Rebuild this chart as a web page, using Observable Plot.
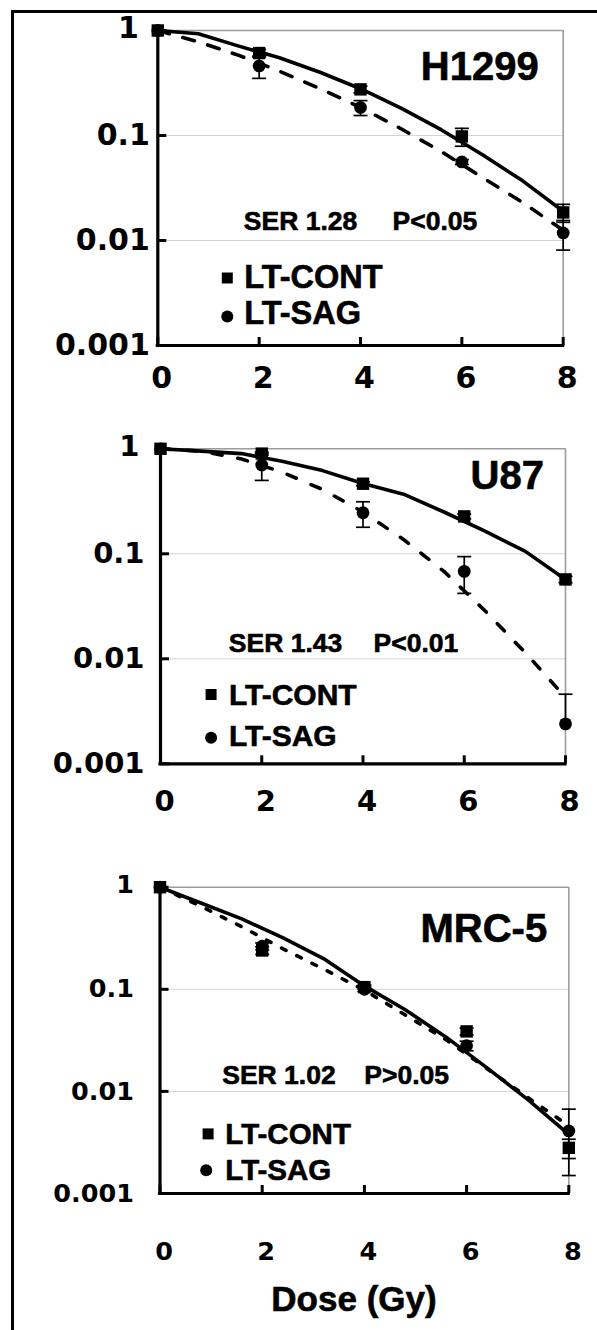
<!DOCTYPE html>
<html>
<head>
<meta charset="utf-8">
<script src="https://cdn.jsdelivr.net/npm/d3@7"></script>
<script src="https://cdn.jsdelivr.net/npm/@observablehq/plot@0.6"></script>
<style>
  html, body { margin: 0; padding: 0; background: #fff; }
  #page { position: relative; width: 597px; height: 1330px; overflow: hidden; background: #fff; }
  #frame { position: absolute; left: 11px; top: 10px; width: 700px; height: 1400px;
           border-top: 3px solid #000; border-left: 3px solid #000; z-index: 5; }
  .panel { position: absolute; left: 0; }
  #xlabel { position: absolute; left: 254px; width: 200px; text-align: center; top: 1281px;
            font: bold 35px "Liberation Sans", Arial, sans-serif; line-height: 1; color: #000; white-space: nowrap;
            -webkit-text-stroke: 0.6px #000; }
</style>
</head>
<body>
<div id="page">
  <div id="p1" class="panel" style="top:0px"></div>
  <div id="p2" class="panel" style="top:420px"></div>
  <div id="p3" class="panel" style="top:850px"></div>
  <div id="xlabel">Dose (Gy)</div>
  <div id="frame"></div>
</div>
<script>
// ---------- data ----------
const doses = [0, 2, 4, 6, 8];
const fitDoses = [0, 0.8, 1.6, 2.4, 3.2, 4, 4.8, 5.6, 6.4, 7.2, 8];
const xTicks = [0, 2, 4, 6, 8];
const xTickLabels = ["0", "2", "4", "6", "8"];
const yTicks = [1, 0.1, 0.01, 0.001];
const yTickLabels = ["1", "0.1", "0.01", "0.001"];
const gridTicks = [0.1, 0.01];
const seriesNames = ["LT-CONT", "LT-SAG"];
const cellLines = ["H1299", "U87", "MRC-5"];
const serLabels = ["SER 1.28", "SER 1.43", "SER 1.02"];
const pLabels = ["P<0.05", "P<0.01", "P>0.05"];
const xAxisTitle = "Dose (Gy)";

// H1299
const h1299Cont = [1, 0.61, 0.275, 0.098, 0.0185];
const h1299ContErr = [0, 0.05, 0.02, 0.019, 0.0036];
const h1299Sag = [1, 0.46, 0.185, 0.056, 0.0118];
const h1299SagErr = [0, 0.11, 0.03, 0.003, 0.0037];
const h1299ContFit = [1, 0.93, 0.71, 0.55, 0.40, 0.279, 0.182, 0.113, 0.066, 0.037, 0.019];
const h1299SagFit = [1, 0.78, 0.58, 0.41, 0.28, 0.185, 0.116, 0.07, 0.04, 0.023, 0.0125];

// U87
const u87Cont = [1, 0.90, 0.465, 0.227, 0.057];
const u87ContErr = [0, 0.03, 0.02, 0.012, 0.004];
const u87Sag = [1, 0.70, 0.246, 0.068, 0.0024];
const u87SagErr = [0, 0.2, 0.067, 0.026, 0.0022];
const u87ContFit = [1, 0.95, 0.90, 0.76, 0.62, 0.467, 0.37, 0.25, 0.165, 0.106, 0.057];
const u87SagFit = [1, 0.95, 0.80, 0.60, 0.41, 0.25, 0.137, 0.068, 0.029, 0.0115, 0.0043];

// MRC-5
const mrcCont = [1, 0.24, 0.105, 0.0387, 0.0028];
const mrcContErr = [0, 0.02, 0.005, 0.003, 0.0006];
const mrcSag = [1, 0.264, 0.10, 0.028, 0.0041];
const mrcSagErr = [0, 0.02, 0.005, 0.003, 0.0026];
const mrcContFit = [1, 0.70, 0.49, 0.32, 0.20, 0.108, 0.063, 0.034, 0.017, 0.0083, 0.0038];
const mrcSagFit = [1, 0.65, 0.41, 0.25, 0.158, 0.098, 0.056, 0.032, 0.0167, 0.0087, 0.0046];

// ---------- drawing ----------
const Y_MIN = 0.001;
const ARIAL = "Liberation Sans, Arial, Helvetica, sans-serif";
const TICKFONT = "DejaVu Sans, Verdana, sans-serif";
const capSymbol = { draw(ctx) { ctx.moveTo(-7, 0); ctx.lineTo(7, 0); } };
const TXT = { fontWeight: "bold", fontFamily: ARIAL, fill: "black", stroke: "black", strokeWidth: 0.6 };

function pts(vals, errs) {
  return doses.map((d, i) => ({ dose: d, v: vals[i], e: errs[i] }));
}
function fit(vals) {
  return fitDoses.map((d, i) => ({ dose: d, v: vals[i] }));
}

function panel(c) {
  const cont = pts(c.cont, c.contErr), sag = pts(c.sag, c.sagErr);
  const withErr = [...cont, ...sag].filter(p => p.e > 0);
  const low = p => (p.v - p.e > Y_MIN ? p.v - p.e : p.v);
  const caps = [];
  for (const p of withErr) {
    caps.push({ dose: p.dose, v: p.v + p.e });
    if (p.v - p.e > Y_MIN) caps.push({ dose: p.dose, v: p.v - p.e });
  }
  const L = c.L, A = c.A;
  const yFmt = d => yTickLabels[yTicks.indexOf(d)];
  const tickText = { tickSize: 0, stroke: null, label: null, fill: "black",
    fontSize: L.tickFont, fontFamily: TICKFONT, fontWeight: "bold" };
  const ann = (txt, pos, extra) => Plot.text([txt], { text: d => d, x: null, y: null, frameAnchor: "top-left",
    dx: pos[0], dy: pos[1], lineAnchor: "bottom", ...TXT, ...extra });
  return Plot.plot({
    width: 597,
    height: L.height,
    marginLeft: L.left,
    marginRight: 597 - L.right,
    marginTop: L.top,
    marginBottom: L.height - L.bottom,
    x: { domain: [0, 8], axis: null },
    y: { type: "log", domain: [Y_MIN, 1], axis: null },
    style: { fontFamily: ARIAL, background: "transparent", overflow: "visible", color: "black" },
    marks: [
      Plot.gridY(gridTicks, { stroke: "#d4d4d4", strokeOpacity: 1, strokeWidth: 1 }),
      Plot.ruleY([1], { stroke: "#9c9c9c", strokeWidth: 1.6 }),
      Plot.ruleX([8], { stroke: "#9c9c9c", strokeWidth: 1.6 }),
      // fitted curves
      Plot.line(fit(c.contFit), { x: "dose", y: "v", stroke: "black", strokeWidth: 3.6 }),
      Plot.line(fit(c.sagFit), { x: "dose", y: "v", stroke: "black", strokeWidth: 3.6, strokeDasharray: c.dash }),
      // error bars
      Plot.ruleX(withErr, { x: "dose", y1: low, y2: p => p.v + p.e, stroke: "black", strokeWidth: 1.7 }),
      Plot.dot(caps, { x: "dose", y: "v", symbol: capSymbol, r: 1, fill: "none", stroke: "black", strokeWidth: 1.7 }),
      // markers
      Plot.dot(cont, { x: "dose", y: "v", symbol: "square", r: 7, fill: "black", stroke: "none" }),
      Plot.dot(sag, { x: "dose", y: "v", symbol: "circle", r: 6.4, fill: "black", stroke: "none" }),
      // axes lines
      Plot.ruleX([0], { stroke: "black", strokeWidth: 3.2, strokeLinecap: "square" }),
      Plot.ruleY([Y_MIN], { stroke: "black", strokeWidth: 3.2, strokeLinecap: "square" }),
      Plot.axisY({ ticks: yTicks, tickSize: -9, fill: null, label: null, stroke: "black", strokeWidth: 3 }),
      Plot.axisX({ ticks: xTicks, tickSize: -8, fill: null, label: null, stroke: "black", strokeWidth: 3 }),
      Plot.axisY({ ticks: yTicks.slice(1), tickFormat: yFmt, tickPadding: L.yPad, ...tickText }),
      Plot.axisY({ ticks: yTicks.slice(0, 1), tickFormat: yFmt, tickPadding: L.yPad, dx: L.oneDx, dy: -2, ...tickText }),
      Plot.axisX({ ticks: xTicks, tickFormat: d => xTickLabels[xTicks.indexOf(d)], tickPadding: L.xPad, dx: 4, ...tickText }),
      // annotations
      ann(c.name, A.name, { textAnchor: "middle", fontSize: 40 }),
      ann(c.ser, A.ser, { textAnchor: "start", fontSize: 26.5 }),
      ann(c.p, [A.p, A.ser[1]], { textAnchor: "start", fontSize: 26.5 }),
      // legend
      Plot.dot([seriesNames[0]], { x: null, y: null, frameAnchor: "top-left", dx: A.sq[0], dy: A.sq[1],
        symbol: "square", r: 6.2, fill: "black", stroke: "none" }),
      Plot.dot([seriesNames[1]], { x: null, y: null, frameAnchor: "top-left", dx: A.ci[0], dy: A.ci[1],
        symbol: "circle", r: 6, fill: "black", stroke: "none" }),
      ann(seriesNames[0], A.t1, { textAnchor: "start", fontSize: A.legFont }),
      ann(seriesNames[1], A.t2, { textAnchor: "start", fontSize: A.legFont })
    ]
  });
}

const configs = [
  { id: "p1", name: cellLines[0], ser: serLabels[0], p: pLabels[0],
    cont: h1299Cont, contErr: h1299ContErr, sag: h1299Sag, sagErr: h1299SagErr,
    contFit: h1299ContFit, sagFit: h1299SagFit, dash: "12,14",
    L: { height: 420, left: 157.3, right: 562.7, top: 30, bottom: 345, yPad: 8, oneDx: -11, xPad: 21, tickFont: 30 },
    A: { name: [322, 49], ser: [86, 199.5], p: 234.7, sq: [69.5, 247.5], ci: [69.5, 286], t1: [86.5, 257.5], t2: [86.5, 293.3], legFont: 32.5 } },
  { id: "p2", name: cellLines[1], ser: serLabels[1], p: pLabels[1],
    cont: u87Cont, contErr: u87ContErr, sag: u87Sag, sagErr: u87SagErr,
    contFit: u87ContFit, sagFit: u87SagFit, dash: "10,16",
    L: { height: 430, left: 160, right: 565, top: 28.3, bottom: 343.3, yPad: 16, oneDx: -5, xPad: 27, tickFont: 29 },
    A: { name: [346.7, 40], ser: [68.3, 203.4], p: 213, sq: [50.6, 245.7], ci: [50.6, 289], t1: [68.4, 255.7], t2: [68.4, 296.7], legFont: 30 } },
  { id: "p3", name: cellLines[2], ser: serLabels[2], p: pLabels[2],
    cont: mrcCont, contErr: mrcContErr, sag: mrcSag, sagErr: mrcSagErr,
    contFit: mrcContFit, sagFit: mrcSagFit, dash: "5,12",
    L: { height: 420, left: 159.5, right: 568.3, top: 36.7, bottom: 343, yPad: 26, oneDx: 0, xPad: 48, tickFont: 25.5 },
    A: { name: [323.8, 55], ser: [62.2, 196.6], p: 204.3, sq: [48.1, 246.7], ci: [46.2, 283.1], t1: [65.3, 256.6], t2: [65.3, 293], legFont: 29.5 } }
];

for (const c of configs) document.getElementById(c.id).appendChild(panel(c));
document.getElementById("xlabel").textContent = xAxisTitle;
</script>
</body>
</html>
